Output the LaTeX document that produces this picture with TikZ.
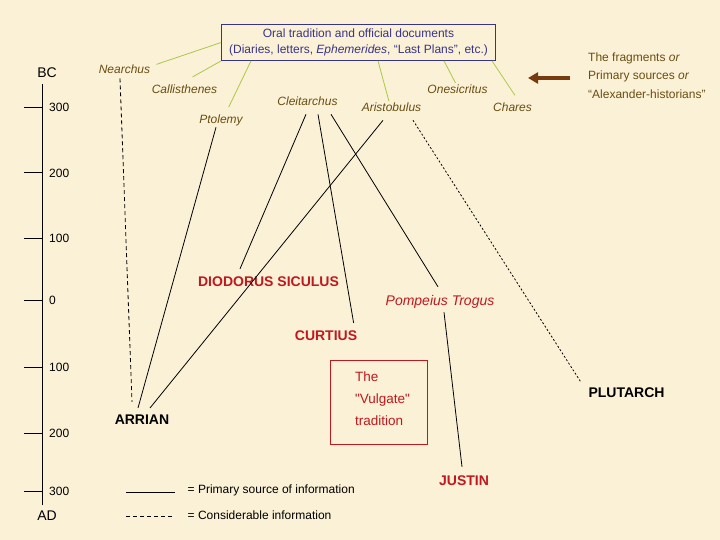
\documentclass[tikz,border=0pt]{standalone}
\usepackage{fontspec}
\setmainfont{Liberation Sans}
\usetikzlibrary{arrows.meta,positioning}
\definecolor{parch}{RGB}{251,241,214}
\definecolor{srcbrown}{RGB}{104,78,18}
\definecolor{histred}{RGB}{192,24,30}
\definecolor{oralgreen}{RGB}{170,200,72}
\definecolor{boxblue}{RGB}{56,52,136}
\definecolor{arrowbrown}{RGB}{118,60,16}
\tikzset{
	srcname/.style={inner sep=0,text=srcbrown,font=\fontsize{12}{14}\selectfont\itshape},
	histname/.style={inner sep=0,text=histred,font=\fontsize{14}{16}\selectfont\bfseries},
	latename/.style={inner sep=0,text=black,font=\fontsize{14}{16}\selectfont\bfseries},
	plainlbl/.style={inner sep=0,anchor=west,font=\fontsize{12}{14}\selectfont},
	eralbl/.style={inner sep=0,font=\fontsize{14}{16}\selectfont},
	primary/.style={color=black,line width=0.8pt},
	considerable/.style={color=black,line width=0.8pt,dash pattern=on 4pt off 3pt},
	oralline/.style={color=oralgreen,line width=0.8pt},
	fragarrow/.style={-{Triangle[length=10pt,width=11pt]},color=arrowbrown,line width=4pt}
}

\begin{document}
\begin{tikzpicture}[x=1pt,y=-1pt]
	\fill[parch] (0,0) rectangle (720,540);
	\useasboundingbox (0,0) rectangle (720,540);
	%%%oral tradition
	\node[draw=boxblue,line width=0.8pt,text=boxblue,align=center,minimum width=274pt,minimum height=36pt,inner sep=0,font=\fontsize{12}{15.5}\selectfont] (oral) at (358.5,42.5) {Oral tradition and official documents\\(Diaries, letters, \textit{Ephemerides}, “Last Plans”, etc.)};
	\node[inner sep=0,anchor=west,align=left,text=srcbrown,font=\fontsize{12}{18.5}\selectfont] (frag) at (588,75.5) {The fragments \textit{or}\\Primary sources \textit{or}\\“Alexander-historians”};
	\draw[fragarrow] ([xshift=-18pt,yshift=-2.5pt]frag.west) -- ([xshift=-60pt,yshift=-2.5pt]frag.west);
	%%%primary sources
	\node[srcname] (nearchus) at (124.5,69) {Nearchus};
	\node[srcname] (callis) at (184.5,89) {Callisthenes};
	\node[srcname] (ptolemy) at (221,120.3) {Ptolemy};
	\node[srcname] (cleit) at (307.5,101) {Cleitarchus};
	\node[srcname] (aristob) at (391.5,107) {Aristobulus};
	\node[srcname] (onesic) at (457.5,89) {Onesicritus};
	\node[srcname] (chares) at (512.5,107) {Chares};
	\draw[oralline] (oral.west) -- ([xshift=6pt]nearchus.north east);
	\draw[oralline] (oral.south west) -- ([xshift=8pt,yshift=7.4pt]callis.north);
	\draw[oralline] ([xshift=-107.5pt]oral.south) -- ([xshift=7.7pt,yshift=7.4pt]ptolemy.north);
	\draw[oralline] ([xshift=19.5pt]oral.south) -- ([xshift=-2.5pt,yshift=1pt]aristob.north);
	\draw[oralline] ([xshift=85.5pt]oral.south) -- ([xshift=-2pt,yshift=1.4pt]onesic.north);
	\draw[oralline] ([xshift=133.5pt]oral.south) -- ([xshift=2.5pt,yshift=7pt]chares.north);
	%%%later historians
	\node[histname] (diodorus) at (268.5,282) {DIODORUS SICULUS};
	\node[histname] (curtius) at (326,336) {CURTIUS};
	\node[inner sep=0,text=histred,font=\fontsize{14}{16}\selectfont\itshape] (trogus) at (440,301.5) {Pompeius Trogus};
	\node[histname] (justin) at (464,481) {JUSTIN};
	\node[latename] (arrian) at (142,420) {ARRIAN};
	\node[latename] (plutarch) at (626.5,392.7) {PLUTARCH};
	\node[draw=histred,line width=0.8pt,text=histred,align=left,text width=47pt,text depth=51pt,inner xsep=25pt,inner ysep=0,minimum height=84pt,font=\fontsize{13.5}{22}\selectfont] (vulg) at (378.5,402) {The\\\textquotedbl Vulgate\textquotedbl\\tradition};
	\draw[considerable] ([xshift=-4.5pt,yshift=-4.7pt]nearchus.south) -- ([xshift=-10pt,yshift=13pt]arrian.north);
	\draw[primary] ([xshift=-5pt,yshift=-1.2pt]ptolemy.south) -- ([xshift=-4pt,yshift=7pt]arrian.north);
	\draw[primary] ([xshift=-8.5pt,yshift=-8.7pt]aristob.south) -- ([xshift=8pt,yshift=7pt]arrian.north);
	\draw[primary] ([xshift=-1.5pt,yshift=-8.7pt]cleit.south) -- ([xshift=-28.5pt,yshift=8pt]diodorus.north);
	\draw[primary] ([xshift=10.5pt,yshift=-8.7pt]cleit.south) -- ([xshift=-3.7pt,yshift=8pt]curtius.north east);
	\draw[primary] ([xshift=23.5pt,yshift=-8.7pt]cleit.south) -- ([xshift=-2pt,yshift=8pt]trogus.north);
	\draw[primary,dash pattern=on 2pt off 2pt] ([xshift=21.5pt,yshift=-8.7pt]aristob.south) -- ([xshift=-7pt,yshift=4.7pt]plutarch.north west);
	\draw[primary] ([xshift=4pt,yshift=-4pt]trogus.south) -- ([xshift=-2pt,yshift=9pt]justin.north);
	%%%time line
	\node[eralbl] (bc) at (47,72.7) {BC};
	\node[eralbl] (ad) at (47,516) {AD};
	\draw[primary,line width=1pt] ([xshift=-4.7pt,yshift=-6.3pt]bc.south) -- ([xshift=-4.7pt,yshift=6pt]ad.north);
	\foreach \yr/\ypos [count=\i] in {300/107.5,200/173,100/238,0/300,100/367,200/433,300/491}{
		\node[plainlbl] (yr\i) at (49,\ypos) {\yr};
		\draw[primary,line width=1pt] ([xshift=-25pt]yr\i.west) -- ([xshift=-7pt]yr\i.west);
	}
	%%%legend
	\node[plainlbl] (legprim) at (187.5,490) {= Primary source of information};
	\node[plainlbl] (legcons) at (187.5,515) {= Considerable information};
	\draw[primary] ([xshift=-61.5pt,yshift=-2pt]legprim.west) -- ([xshift=-13pt,yshift=-2pt]legprim.west);
	\draw[considerable] ([xshift=-61.5pt,yshift=-1.7pt]legcons.west) -- ([xshift=-14.5pt,yshift=-1.7pt]legcons.west);
\end{tikzpicture}
\end{document}
